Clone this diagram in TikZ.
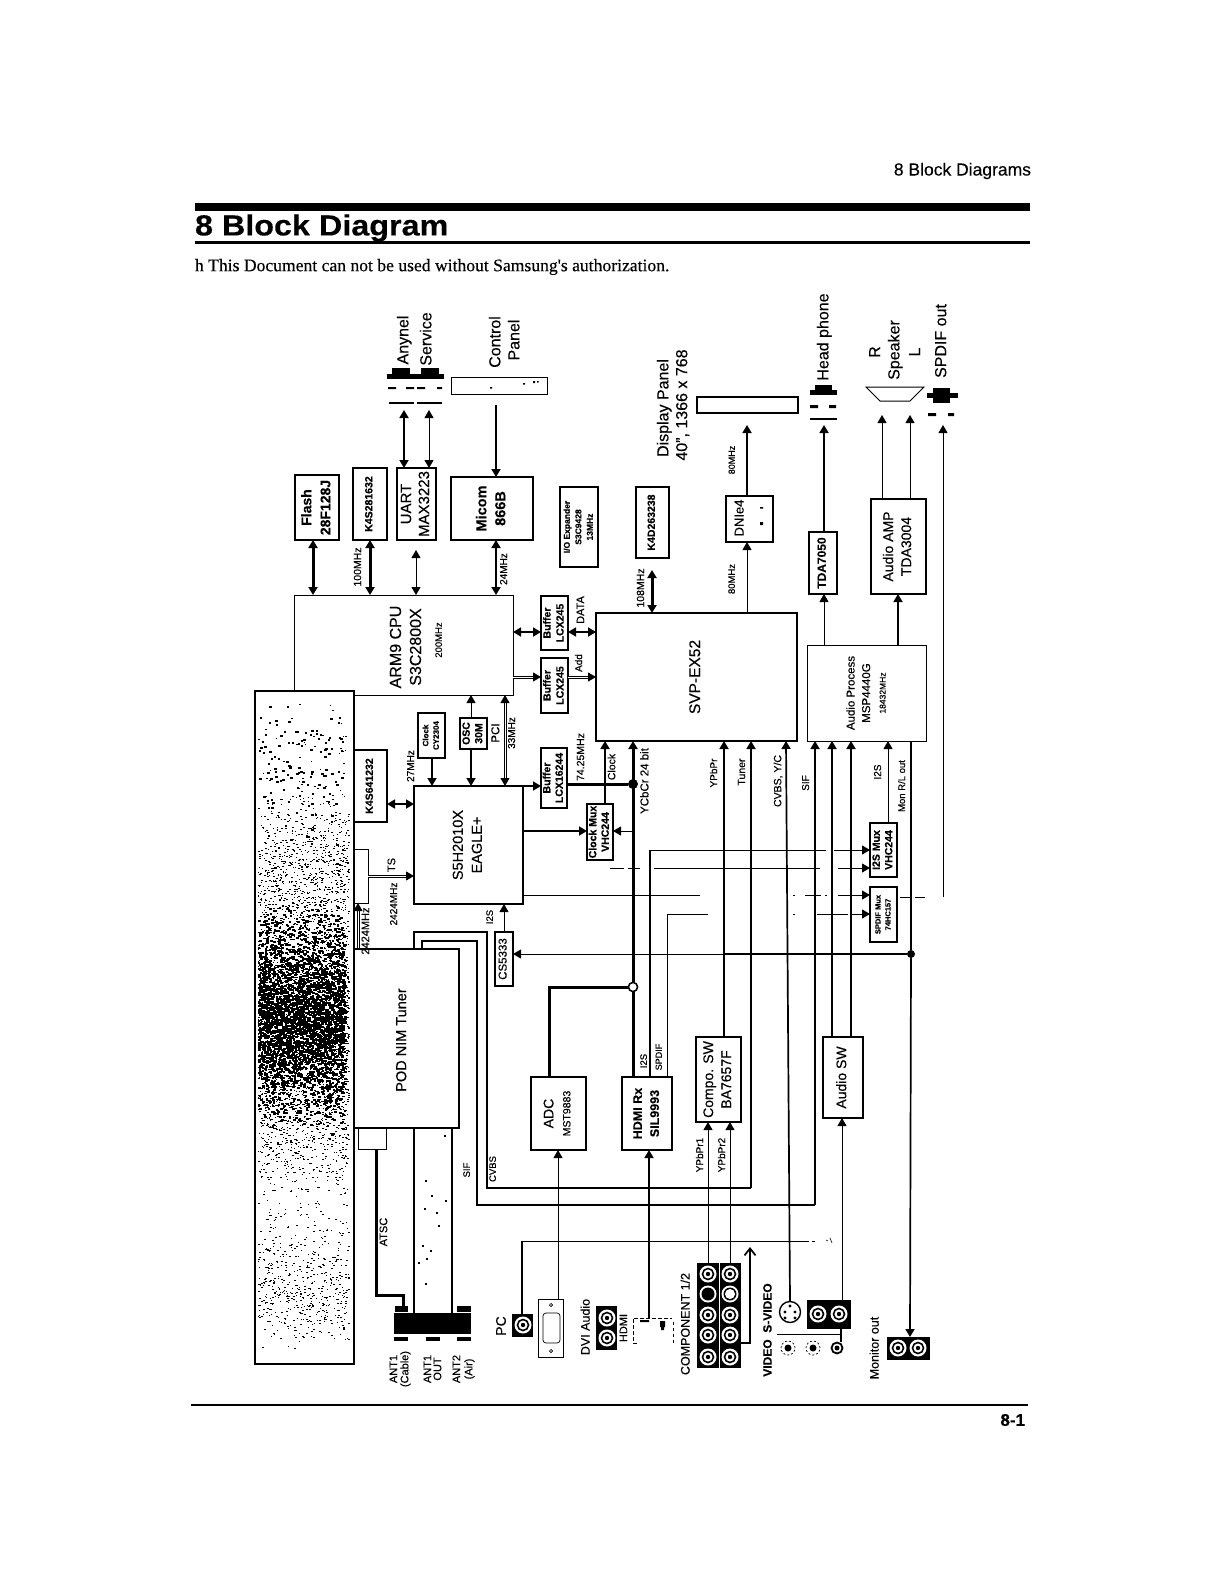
\documentclass[tikz,border=0pt]{standalone}
\usepackage{fontspec}
\setmainfont[FakeBold=0.25]{Liberation Sans}
\newfontfamily\serifhdr[FakeBold=0.3]{Liberation Serif}
\usetikzlibrary{arrows.meta,calc}
\tikzset{
  x=1pt,y=-1pt,
  box/.style={draw,fill=white,line width=1.2pt,inner sep=0pt,outer sep=0pt,align=center},
  blk/.style={draw=none,fill=black,inner sep=0pt,outer sep=0pt},
  lbl/.style={inner sep=0pt,outer sep=0pt},
  wa/.style={line width=1pt},
  wb/.style={line width=1.7pt},
  wc/.style={line width=3pt},
  ar/.style={-{Triangle[length=8pt,width=9pt]}},
  br/.style={{Triangle[length=8pt,width=9pt]}-{Triangle[length=8pt,width=9pt]}},
  hollow/.style={double,double distance=1pt,line width=1pt},
  jdot/.style={circle,fill=black,inner sep=0pt,minimum size=10pt,outer sep=0pt},
  jring/.style={circle,draw,line width=1.4pt,fill=white,inner sep=0pt,minimum size=9pt,outer sep=0pt},
}
\newcommand{\rt}[3]{\rotatebox{90}{\fontsize{#1}{#2}\selectfont\begin{tabular}{@{}c@{}}#3\end{tabular}}}
\newcommand{\rtb}[3]{\rotatebox{90}{\fontsize{#1}{#2}\selectfont\bfseries\begin{tabular}{@{}c@{}}#3\end{tabular}}}
\newcommand{\bx}[7][]{\node[box,#1,minimum width={(#5-#3)*1pt},minimum height={(#6-#4)*1pt}] (#2) at ({(#3+#5)/2},{(#4+#6)/2}) {#7};}
\newcommand{\lab}[5]{\node[lbl] (#1) at (#2,#3) {\rt{#4}{#4}{#5}};}
\newcommand{\labb}[5]{\node[lbl] (#1) at (#2,#3) {\rtb{#4}{#4}{#5}};}
\newcommand{\rcaw}[2]{\fill[white] (#1,#2) circle (8.5pt); \draw[line width=1.6pt] (#1,#2) circle (5.5pt); \fill (#1,#2) circle (2.2pt);}
\newcommand{\stipple}[5]{%
  \foreach \i in {1,...,#1}{%
    \pgfmathrandominteger{\ra}{0}{#2}%
    \pgfmathrandominteger{\rb}{0}{#3}%
    \pgfmathrandominteger{\rc}{0}{#3}%
    \pgfmathrandominteger{\rd}{0}{1}%
    \fill ({258+\ra},{#4+\rb+\rc-#3}) rectangle ++({#5+\rd},{#5});
  }}
\begin{document}
\begin{tikzpicture}
\useasboundingbox (0,0) rectangle (1221,1578);
\fill[white] (0,0) rectangle (1221,1578);

% page furniture
\node[lbl,anchor=east] (hdr) at (1031,171) {\fontsize{17.5}{19}\selectfont 8 Block Diagrams};
\coordinate (ba) at (195,207); \coordinate (bb) at (1030,207);
\draw[line width=8pt] (ba) -- (bb);
\node[lbl,anchor=west] (title) at (195,228) {\scalebox{1.115}[1]{\fontsize{29}{30}\selectfont\bfseries 8 Block Diagram}};
\coordinate (ca) at (195,242.5); \coordinate (cb) at (1030,242.5);
\draw[line width=3pt] (ca) -- (cb);
\node[lbl,anchor=west] (note) at (195,267) {\fontsize{17.6}{19}\selectfont\serifhdr h This Document can not be used without Samsung's authorization.};
\coordinate (fa) at (191,1405); \coordinate (fb) at (1028,1405);
\draw[line width=2pt] (fa) -- (fb);
\node[lbl,anchor=east] (pg) at (1025,1420) {\fontsize{17}{18}\selectfont\bfseries 8-1};

% ---- blocks, top row
\bx[line width=2pt]{flash}{295}{475}{339}{540}{\rtb{14}{19}{Flash\\28F128J}}
\bx{kb}{353}{468}{387}{540}{\rtb{10.5}{12}{K4S281632}}
\bx{uart}{397}{468}{436}{540}{\rt{15}{18}{UART\\MAX3223}}
\bx{micom}{451}{477}{533}{540}{\rtb{14.5}{19}{Micom\\866B}}
\bx[line width=1.6pt]{ioe}{560}{487}{598}{567}{\rtb{8.5}{11.5}{I/O Expander\\S3C9428\\13MHz}}
\bx[line width=1.6pt]{kc}{636}{487}{669}{558}{\rtb{10.5}{12}{K4D263238}}
\bx{dnie}{726}{496}{773}{542}{}
\lab{dnt}{741}{518}{13}{DNIe4}
\fill (760,507) rectangle ++(3,1.5) (760,522) rectangle ++(3,3);
\bx{tda}{809}{532}{837}{594}{\rtb{12}{14}{TDA7050}}
\bx{amp}{871}{499}{926}{594}{\rt{14}{18}{Audio AMP\\TDA3004}}
\bx{panel}{697}{397}{798}{413}{}
\bx[line width=1pt]{ctrl}{451}{377}{547}{394}{}
\fill (490,387) rectangle ++(2,1.5) (523,383) rectangle ++(2,1.5) (533,381) rectangle ++(2,2) (537,381) rectangle ++(1.5,1.5);

\bx[line width=1pt]{arm}{294}{595}{513}{695}{}
\node[lbl] (armt) at (407,647) {\rt{16}{20}{ARM9 CPU\\S3C2800X}};
\lab{armf}{440}{640}{9.5}{200MHz}
\bx[line width=1.6pt]{bufa}{541}{596}{568}{650}{\rtb{10.5}{13}{Buffer\\LCX245}}
\bx[line width=1.6pt]{bufb}{541}{658}{568}{713}{\rtb{10.5}{13}{Buffer\\LCX245}}
\bx[line width=1.4pt]{svp}{596}{613}{797}{741}{\rt{15.5}{18}{SVP-EX52}}
\bx[line width=1pt]{audp}{807}{645}{926}{741}{}
\node[lbl] (audt) at (867,693) {\rt{11.5}{15.5}{Audio Process\\MSP4440G\\{\fontsize{8.5}{10}\selectfont 18432MHz}}};

% stipple panel
\node[box,line width=2.4pt,minimum width=99pt,minimum height=673pt] (stip) at (304.5,1027.5) {};
\begin{scope}
\clip (257,693) rectangle (352,1362);
\pgfmathsetseed{1221}
\stipple{1100}{90}{335}{1027}{1.2}
\stipple{2800}{90}{165}{1030}{1.4}
\stipple{2600}{86}{115}{1015}{1.5}
\stipple{500}{84}{60}{1030}{1.7}
\stipple{420}{90}{60}{1290}{1.3}
\stipple{500}{90}{70}{860}{1.3}
\stipple{120}{84}{80}{770}{1.5}
\end{scope}

\bx[line width=1.6pt]{kd}{354}{750}{387}{822}{\rtb{10.5}{12}{K4S641232}}
\bx[line width=1pt]{tsb}{354}{849}{368}{903}{}
\bx[line width=1.6pt]{eagle}{414}{786}{523}{904}{\rt{14.5}{19}{S5H2010X\\EAGLE+}}
\bx[line width=1.6pt]{clk}{418}{713}{445}{758}{\rtb{8}{10.5}{Clock\\CY2304}}
\bx[line width=1.6pt]{osc}{460}{718}{487}{749}{\rtb{10.5}{12.5}{OSC\\30M}}
\bx[line width=1.6pt]{bufc}{541}{748}{567}{808}{\rtb{10.5}{12.5}{Buffer\\LCX16244}}
\bx[line width=1.6pt]{cmux}{587}{804}{613}{860}{\rtb{10.5}{12.5}{Clock Mux\\VHC244}}
\bx[line width=1.6pt]{imux}{870}{823}{897}{877}{\rtb{10.5}{12.5}{I2S Mux\\VHC244}}
\bx[line width=1.6pt]{smux}{870}{887}{897}{942}{\rtb{7.5}{10}{SPDIF Mux\\74HC157}}
\bx[line width=1.4pt]{cs}{495}{932}{513}{986}{\rt{11.5}{13}{CS5333}}

% lines behind tuner
\coordinate (cvbsA) at (414,932); \coordinate (cvbsB) at (487,932); \coordinate (cvbsC) at (487,1188); \coordinate (cvbsD) at (751,1188);
\coordinate (sifA) at (422,947); \coordinate (sifB) at (422,941); \coordinate (sifC) at (477,941); \coordinate (sifD) at (477,1205); \coordinate (sifE) at (815,1205);
\bx[line width=1.8pt]{pod}{354}{949}{459}{1128}{}
\node[lbl] (podt) at (403,1040) {\rt{14.5}{16}{POD NIM Tuner}};
\draw[wb] (pod.north -| cvbsA) -- (cvbsA) -- (cvbsB) -- (cvbsC) -- (cvbsD);
\draw[wb,ar] (cvbsD) -- (751,0 |- svp.south);
\draw[wb] (pod.north -| sifA) -- (sifB) -- (sifC) -- (sifD) -- (sifE);
\draw[wb,ar] (sifE) -- (815,0 |- audp.south);

\bx[line width=1pt]{atsc}{358}{1128}{386}{1149}{}
\bx[line width=1.8pt]{adc}{531}{1077}{586}{1150}{\rt{13}{17}{\fontsize{14}{17}\selectfont ADC\\\fontsize{10.5}{17}\selectfont MST9883}}
\bx[line width=1.8pt]{hdmi}{622}{1077}{672}{1150}{\rtb{12.5}{17}{HDMI Rx\\SIL9993}}
\bx[line width=1.8pt]{compo}{696}{1037}{741}{1122}{\rt{14}{18}{Compo. SW\\BA7657F}}
\bx[line width=1.6pt]{asw}{823}{1037}{863}{1118}{\rt{14}{16}{Audio SW}}

% speaker
\coordinate (spa) at (866,387); \coordinate (spb) at (924,387); \coordinate (spc) at (910,401); \coordinate (spd) at (880,401);
\draw[wa,fill=white] (spa) -- (spb) -- (spc) -- (spd) -- cycle;

% ---- connector graphics top
\bx[blk]{anyb}{387}{374}{444}{379}{}
\bx[blk]{anyc}{392}{368}{410}{374}{}
\bx[blk]{serc}{421}{368}{439}{374}{}
\fill (388,387) rectangle ++(8,2) (406,387) rectangle ++(8,2) (417,387) rectangle ++(8,2) (437,387) rectangle ++(5,2);
\coordinate (anyl) at (389,403); \coordinate (anyr) at (442,403);
\draw[line width=1.4pt] (anyl) -- (414,403) (417,403) -- (anyr);
\bx[blk]{hpb}{810}{390}{837}{395}{}
\bx[blk]{hpc}{815}{385}{832}{390}{}
\fill (810,405) rectangle ++(8,3) (829,405) rectangle ++(7,3);
\coordinate (hpl) at (810,419); \coordinate (hpr) at (837,419);
\draw[line width=1.4pt] (hpl) -- (hpr);
\bx[blk]{spb1}{927}{393}{958}{398}{}
\bx[blk]{spb2}{933}{388}{950}{403}{}
\fill (928,413) rectangle ++(8,3) (948,413) rectangle ++(6,3);

% labels top
\lab{tany}{405}{340}{16}{Anynel}
\lab{tser}{428}{339}{16}{Service}
\lab{tctl}{497}{342}{16}{Control}
\lab{tpan}{516}{340}{16}{Panel}
\lab{tdp}{665}{408}{16}{Display Panel}
\lab{tres}{684}{405}{16}{40", 1366 x 768}
\lab{thp}{825}{337}{16}{Head phone}
\lab{tr}{877}{352}{16}{R}
\lab{tsp}{896}{350}{16}{Speaker}
\lab{tl}{917}{352}{16}{L}
\lab{tspd}{943}{341}{16}{SPDIF out}

% ---- connectors top
\draw[wc,br] (313,0 |- arm.north) -- (313,0 |- flash.south);
\draw[wc,br] (370,0 |- arm.north) -- (370,0 |- kb.south);
\coordinate (ufree) at (416,550);
\draw[wa,br] (416,0 |- arm.north) -- (ufree);
\draw[wb,br] (496,0 |- arm.north) -- (496,0 |- micom.south);
\coordinate (any2) at (404,410); \coordinate (ser2) at (429,410); \coordinate (ctl2) at (496,405);
\draw[wb,br] (404,0 |- uart.north) -- (any2);
\draw[wa,br] (429,0 |- uart.north) -- (ser2);
\draw[wb,ar] (ctl2) -- (496,0 |- micom.north);
\coordinate (kc2) at (652,570);
\draw[wc,br] (652,0 |- svp.north) -- (kc2);
\draw[wa,ar] (747,0 |- svp.north) -- (747,0 |- dnie.south);
\coordinate (pan2) at (747,425);
\draw[wb,ar] (747,0 |- dnie.north) -- (pan2);
\coordinate (hp2) at (824,425);
\draw[wb,ar] (824,0 |- tda.north) -- (hp2);
\draw[wa,ar] (824,0 |- audp.north) -- (824,0 |- tda.south);
\draw[wb,ar] (898,0 |- audp.north) -- (898,0 |- amp.south);
\coordinate (spk1) at (882,415); \coordinate (spk2) at (910,415);
\draw[wa,ar] (882,0 |- amp.north) -- (spk1);
\draw[wa,ar] (910,0 |- amp.north) -- (spk2);
\draw[wb,br] (arm.east |- 0,632) -- (bufa.west |- 0,632);
\draw[hollow,ar] (arm.east |- 0,677) -- (bufb.west |- 0,677);
\draw[wb,br] (bufa.east |- 0,632) -- (svp.west |- 0,632);
\draw[hollow,ar] (bufb.east |- 0,677) -- (svp.west |- 0,677);

% ---- connectors EAGLE
\draw[wb,ar] (432,0 |- clk.south) -- (432,0 |- eagle.north);
\draw[wb,ar] (471,0 |- osc.south) -- (471,0 |- eagle.north);
\draw[wa,ar] (471,0 |- osc.north) -- (471,0 |- arm.south);
\draw[hollow,br] (505,0 |- eagle.north) -- (505,0 |- arm.south);
\draw[wb,br] (kd.east |- 0,804) -- (eagle.west |- 0,804);
\draw[hollow,ar] (tsb.east |- 0,876) -- (eagle.west |- 0,876);
\coordinate (ts2) at (358,948);
\draw[hollow,ar] (ts2) -- (358,0 |- tsb.south);
\draw[wb,ar] (eagle.east |- 0,786) -- (bufc.west |- 0,786);
\draw[wb,ar] (eagle.east |- 0,831) -- (cmux.west |- 0,831);
\draw[wa,ar] (504,0 |- cs.north) -- (504,0 |- eagle.south);
\draw[wb,ar] (605,0 |- cmux.north) -- (605,0 |- svp.south);
% bus
\node[jdot] (jb) at (633,784) {};
\node[jring] (jc) at (633,987) {};
\draw[wc,ar] (633,0 |- hdmi.north) -- (633,0 |- svp.south);
\draw[wc] (bufc.east |- jb) -- (jb);
\draw[wc] (jc) -- (549,987) -- (549,0 |- adc.north);
\node[jring] (jc2) at (633,987) {};
\draw[wa,ar] (633,831) -- (cmux.east |- 0,831);

% ---- mux connectors
\coordinate (a850) at (650,850); \coordinate (a914) at (667,914);
\draw[wb] (650,0 |- hdmi.north) -- (a850);
\draw[wa] (a850) -- (826,850);
\draw[wa,ar] (834,850) -- (imux.west |- 0,850);
\draw[wa,dash pattern=on 14pt off 4pt] (610,868) -- (640,868);
\draw[wa] (654,868) -- (820,868);
\draw[wa,ar] (838,868) -- (imux.west |- 0,868);
\draw[wa] (eagle.east |- 0,895) -- (700,895);
\draw[wa,dash pattern=on 2pt off 10pt on 16pt off 4pt] (793,895) -- (828,895);
\draw[wa,ar] (838,895) -- (smux.west |- 0,895);
\draw[wa] (667,0 |- hdmi.north) -- (a914) -- (708,914);
\draw[wa,dash pattern=on 2pt off 22pt] (793,914) -- (815,914);
\draw[wa] (817,914) -- (848,914);
\draw[wa,ar] (850,914) -- (smux.west |- 0,914);
\draw[wa,ar] (888,0 |- imux.north) -- (888,0 |- audp.south);
% SPDIF out
\coordinate (sp1) at (943,897); \coordinate (sp2) at (943,425);
\draw[wa,ar] (sp1) -- (sp2);
\draw[wa,dash pattern=on 12pt off 3pt on 10pt off 3pt] (900,897) -- (928,897);

% monitor bus
\node[jdot,minimum size=8pt] (jm) at (911,954) {};
\draw[wb] (911,0 |- audp.south) -- (jm);
\draw[wb] (723,954) -- (jm);
\draw[wa,ar] (723,954) -- (cs.east |- 0,954);

% lines to SVP / audio
\coordinate (mon2) at (910,1337);
\draw[wb,ar] (jm) -- (mon2);
\draw[wb,ar] (724,0 |- compo.north) -- (724,0 |- svp.south);
\draw[wb,ar] (832,0 |- asw.north) -- (832,0 |- audp.south);
\draw[wb,ar] (851,0 |- asw.north) -- (851,0 |- audp.south);

% ---- labels mid
\lab{l100}{359}{567}{10.5}{100MHz}
\lab{l24}{505}{569}{10}{24MHz}
\lab{ldat}{582}{610}{11}{DATA}
\lab{ladd}{580}{663}{10}{Add}
\lab{l108}{642}{588}{10.5}{108MHz}
\lab{l80a}{733}{460}{9}{80MHz}
\lab{l80b}{733}{579}{9.5}{80MHz}
\lab{l27}{412}{766}{10}{27MHz}
\lab{lpci}{497}{733}{11.5}{PCI}
\lab{l33}{513}{733}{10}{33MHz}
\lab{l74}{582}{757}{10.5}{74.25MHz}
\lab{lclk}{613}{767}{10.5}{Clock}
\lab{lts}{393}{865}{11}{TS}
\lab{l24a}{395}{904}{10}{2424MHz}
\lab{l24b}{367}{931}{11}{2424MHz}
\lab{li2sa}{491}{917}{9.5}{I2S}
\lab{lycb}{646}{781}{11.5}{YCbCr 24 bit}
\lab{lypb}{715}{773}{10}{YPbPr}
\lab{ltun}{743}{772}{10.5}{Tuner}
\lab{lcvy}{779}{781}{10.5}{CVBS, Y/C}
\lab{lsifa}{807}{783}{10}{SIF}
\lab{li2sb}{879}{772}{10}{I2S}
\lab{lmon}{903}{786}{9.5}{Mon R/L out}
\lab{li2sc}{645}{1061}{9.5}{I2S}
\lab{lspd}{660}{1057}{9}{SPDIF}
\lab{lcvb}{494}{1169}{9.5}{CVBS}
\lab{lsifb}{468}{1170}{9.5}{SIF}
\lab{latsc}{385}{1232}{11}{ATSC}
\lab{lyp1}{701}{1155}{10}{YPbPr1}
\lab{lyp2}{723}{1155}{10}{YPbPr2}

% ---- antenna
\bx[blk]{ant}{394}{1313}{471}{1334}{}
\bx[blk]{antt1}{395}{1306}{408}{1312}{}
\bx[blk]{antt2}{457}{1306}{471}{1312}{}
\bx[blk]{antb1}{394}{1337}{408}{1341}{}
\bx[blk]{antb2}{426}{1337}{440}{1341}{}
\bx[blk]{antb3}{457}{1337}{471}{1341}{}
\coordinate (atA) at (376,1295); \coordinate (atB) at (403,1295);
\draw[line width=3pt] (376,0 |- atsc.south) -- (atA) -- (atB) -- (403,0 |- antt1.north);
\draw[wb] (414,0 |- pod.south) -- (414,0 |- ant.north);
\draw[wb] (452,0 |- pod.south) -- (452,0 |- ant.north);
\lab{ta1}{395}{1369}{11}{ANT1}
\lab{ta1b}{406}{1369}{11}{(Cable)}
\lab{ta2}{429}{1369}{11}{ANT1}
\lab{ta2b}{439}{1369}{11}{OUT}
\lab{ta3}{458}{1369}{11}{ANT2}
\lab{ta3b}{470}{1369}{11}{(Air)}
\foreach \p/\q in {425/1180,431/1195,424/1208,436/1212,422/1245,430/1250,418/1262,426/1258,438/1225,445/1200,425/1283,444/1135}{\fill (\p,\q) rectangle ++(1.5,1.5);}

% ---- PC and VGA
\bx[blk]{pc}{512}{1314}{533}{1337}{}
\rcaw{523}{1325}
\lab{tpc}{503}{1326}{14}{PC}
\bx[draw,line width=.7pt,fill=white]{vga}{538}{1299}{563}{1357}{}
\draw[line width=.7pt,rounded corners=3pt] (543,1313) rectangle (560,1343);
\draw[line width=.6pt] (551,1305) circle (1.6pt) (551,1351) circle (1.6pt);
\coordinate (pcA) at (522,1241);
\draw[wb] (522,0 |- pc.north) -- (pcA);
\draw[wa] (pcA) -- (806,1241);
\draw[wa,dash pattern=on 3pt off 3pt] (806,1241) -- (815,1241);
\draw[line width=.6pt] (830,1238) -- (832,1243) (826,1240) -- (828,1241);
\draw[wa,ar] (558,0 |- vga.north) -- (558,0 |- adc.south);

% ---- DVI audio, HDMI connector
\bx[blk]{dvia}{596}{1306}{617}{1350}{}
\rcaw{607}{1318}
\rcaw{607}{1338}
\lab{tdvi}{587}{1327}{12.5}{DVI Audio}
\lab{thd}{625}{1328}{11}{HDMI}
\bx[draw=none,fill=none]{hdc}{633}{1318}{673}{1343}{}
\draw[line width=.7pt,dash pattern=on 4pt off 2pt] (637,1343) -- (633,1343) -- (633,1318) -- (672,1318);
\draw[line width=.7pt,dash pattern=on 3pt off 3pt] (673,1322) -- (673,1343);
\fill (640,1320) rectangle ++(9,2) (660,1321) rectangle ++(5,6) (661,1327) rectangle ++(3,3);
\draw[wb,ar] (649,0 |- hdc.north) -- (649,0 |- hdmi.south);

% ---- component
\bx[blk]{compa}{697}{1263}{719}{1368}{}
\bx[blk]{compb}{720}{1263}{741}{1368}{}
\foreach \yy in {1274,1315,1335,1357}{\rcaw{708}{\yy}\rcaw{730}{\yy}}
\fill[white] (708,1294) circle (8.5pt); \fill[black] (708,1294) circle (6.5pt);
\fill[white] (730,1294) circle (8.5pt); \fill[black] (730,1294) circle (6.5pt); \fill[white] (730,1294) circle (5pt);
\lab{tcomp}{687}{1324}{12.5}{COMPONENT 1/2}
\draw[wa,ar] (708,0 |- compa.north) -- (708,0 |- compo.south);
\draw[wa,ar] (730,0 |- compb.north) -- (730,0 |- compo.south);
\coordinate (cbA) at (750,1343); \coordinate (cbB) at (750,1247);
\draw[wb,-{Straight Barb[length=7pt,width=11pt]}] (compb.east |- cbA) -- (cbA) -- (cbB);

% ---- video inputs
\node[lbl] (tvid) at (769,1330) {\rtb{12}{13}{VIDEO\ \ S-VIDEO}};
\node[circle,draw,line width=1.4pt,fill=white,minimum size=21pt,inner sep=0pt] (svid) at (790,1312) {};
\fill (790,1306) circle (1.7pt) (785,1312) circle (1.7pt) (795,1312) circle (1.7pt) (785,1318) circle (1.7pt) (795,1318) circle (1.7pt);
\draw[wb,ar] (svid.north) -- (786,0 |- svp.south);
\bx[blk]{vidb}{807}{1300}{851}{1329}{}
\rcaw{818}{1314}
\rcaw{839}{1314}
\draw[wa,ar] (842,0 |- vidb.north) -- (842,0 |- asw.south);
\coordinate (vla) at (777,1334); \coordinate (vlb) at (840,1334);
\draw[line width=.8pt] (vla) -- (vlb);
\draw[line width=.7pt,dash pattern=on 2pt off 2pt] (788,1348) circle (7pt) (813,1348) circle (7pt);
\fill (788,1348) circle (3.5pt) (813,1348) circle (3.5pt);
\draw[line width=1.8pt] (837,1348) circle (5.5pt);
\fill (837,1348) circle (2.5pt);
\draw[wb] (841,1329) -- (841,1342);

% ---- monitor out
\bx[blk]{mon}{887}{1337}{930}{1360}{}
\rcaw{898}{1348}
\rcaw{918}{1348}
\lab{tmon}{876}{1348}{12.5}{Monitor out}

\end{tikzpicture}
\end{document}
